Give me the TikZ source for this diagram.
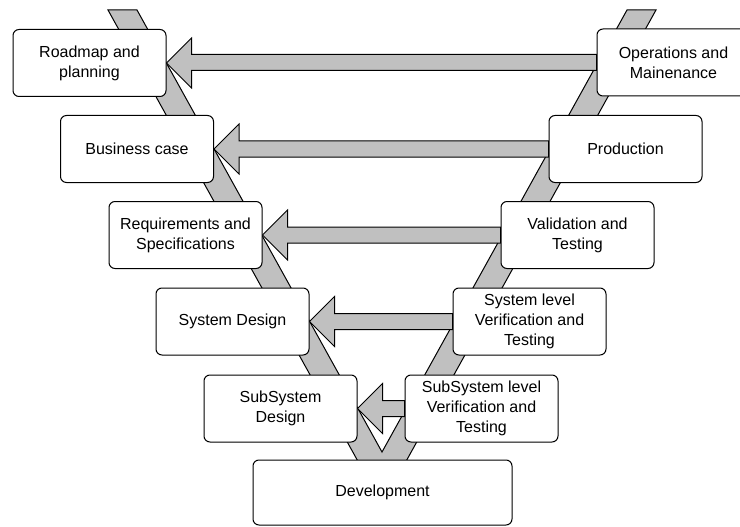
\documentclass[tikz,border=0pt]{standalone}
\usepackage{fontspec}
\setmainfont{Liberation Sans}
\usepackage{xcolor}
\usepackage{tikz}
\usetikzlibrary{calc,backgrounds}
\definecolor{bandgray}{RGB}{192,192,192}

\begin{document}
\begin{tikzpicture}[x=1pt,y=-1pt,
  stage/.style={draw,line width=1pt,fill=white,rounded corners=6pt,
    minimum width=153pt,minimum height=67pt,inner sep=2pt,align=center,
    font=\fontsize{16}{20}\selectfont},
  band/.style={draw,line width=1pt,fill=bandgray},
  feedback/.style={band}]
  \def\hl{25}
  \def\hw{25}
  \def\sw{8}
  \useasboundingbox (0,0) rectangle (740,527);
  \clip (0,0) rectangle (740,527);
  \node[stage] (road) at (89.5,63) {Roadmap and\\planning};
  \node[stage] (biz) at (137,149) {Business case};
  \node[stage] (req) at (185.5,235) {Requirements and\\Specifications};
  \node[stage] (sysd) at (232.5,321.5) {System Design};
  \node[stage] (subd) at (280.5,408.5) {SubSystem\\Design};
  \node[stage,minimum width=259pt,minimum height=65pt] (dev) at (382.5,492.5) {Development};
  \node[stage] (ops) at (673.5,62.5) {Operations and\\Mainenance};
  \node[stage] (prod) at (625.5,149) {Production};
  \node[stage] (val) at (577.5,235) {Validation and\\Testing};
  \node[stage] (sysv) at (529.5,321.5) {System level\\Verification and\\Testing};
  \node[stage] (subv) at (481.5,408.5) {SubSystem level\\Verification and\\Testing};
  \begin{scope}[on background layer]
    \draw[band] (108,10) -- (360,465) -- (404,465) -- (656,10) -- (627,10)
      -- (382,452) -- (137,10) -- cycle;
    \foreach \a/\b in {road/ops,biz/prod,req/val,sysd/sysv,subd/subv}{
      \draw[feedback] (\a.east) -- ++(\hl,-\hw) |- ($(\b.west)+(0,-\sw)$)
        -- ($(\b.west)+(0,\sw)$) -| ($(\a.east)+(\hl,\hw)$) -- cycle;
    }
  \end{scope}
\end{tikzpicture}
\end{document}
